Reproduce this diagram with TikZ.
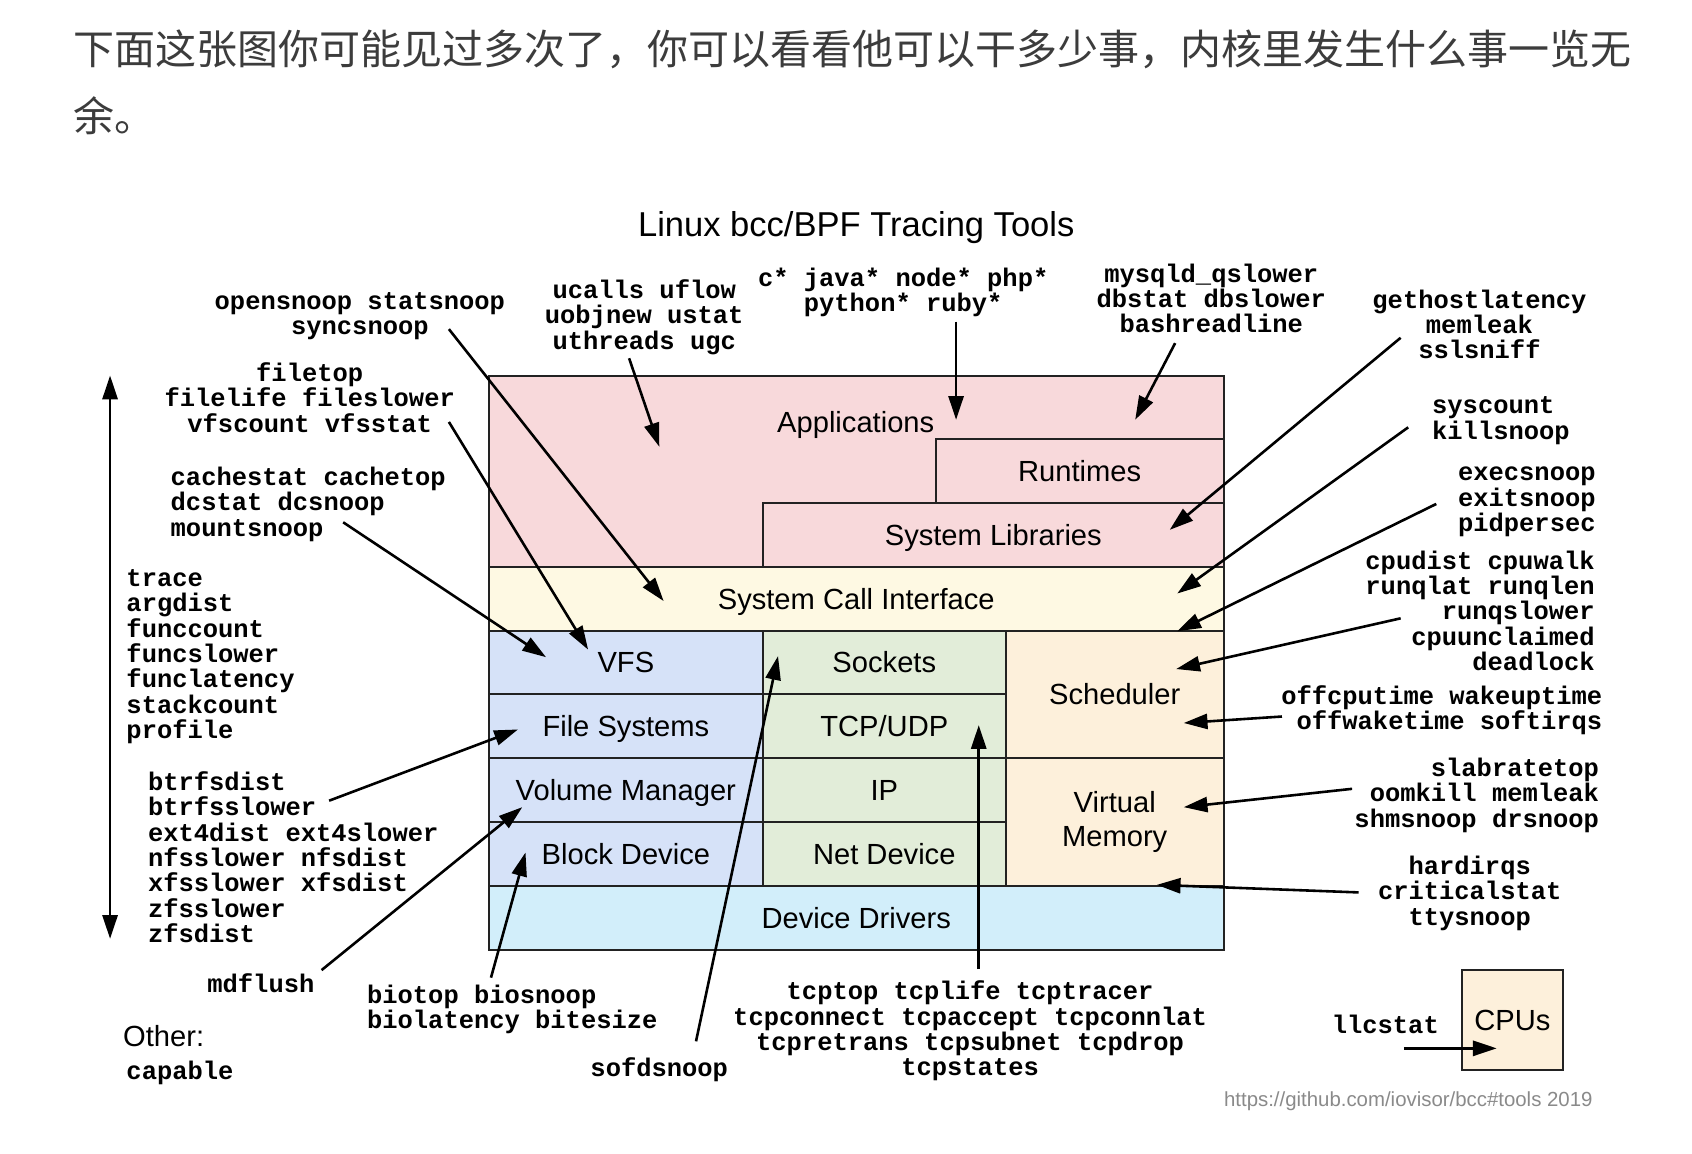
\documentclass[tikz,border=0pt]{standalone}
\usepackage{fontspec}
\setmainfont{Liberation Sans}
\newfontfamily\mono{Liberation Mono}
\newfontfamily\cjk{Noto Sans CJK SC}
\usetikzlibrary{arrows.meta}
\definecolor{appc}{HTML}{F8D9DB}
\definecolor{sysc}{HTML}{FEF9E3}
\definecolor{vfsc}{HTML}{D6E2F8}
\definecolor{netc}{HTML}{E2EDD9}
\definecolor{schc}{HTML}{FDF0DB}
\definecolor{drvc}{HTML}{D2EEFA}
\definecolor{edgec}{HTML}{222222}
\definecolor{cjkc}{HTML}{3C3C3C}
\definecolor{footc}{HTML}{8A8A8A}
\tikzset{
  layer/.style={draw=edgec, line width=1.8pt, rectangle, inner sep=0pt, outer sep=0pt,
    anchor=north west, font=\fontsize{27}{31}\selectfont, text height=19.4pt, text depth=0pt},
  lbl/.style={font=\fontsize{27}{31}\selectfont, inner sep=0pt, anchor=base},
  tool/.style={font=\mono\bfseries\fontsize{23.6}{23.5}\selectfont, inner sep=0pt},
  arr/.style={line width=2.4pt, -{Triangle[length=22pt,width=14pt]}},
  darr/.style={line width=2.4pt, {Triangle[length=22pt,width=14pt]}-{Triangle[length=22pt,width=14pt]}},
}
\begin{document}
\begin{tikzpicture}[x=1pt,y=-1pt]
\useasboundingbox[fill=white] (0,0) rectangle (1568,1069);

% intro text
\node[font=\cjk\fontsize{38}{62}\selectfont, text=cjkc, anchor=base west, inner sep=0pt] (intro1) at (68,60) {下面这张图你可能见过多次了，你可以看看他可以干多少事，内核里发生什么事一览无};
\node[font=\cjk\fontsize{38}{62}\selectfont, text=cjkc, anchor=base west, inner sep=0pt] (intro2) at (68,122) {余。};

% title
\node[font=\fontsize{32}{36}\selectfont, anchor=base, inner sep=0pt] (title) at (793.5,219) {Linux bcc/BPF Tracing Tools};

% layers
\node[layer, fill=appc, minimum width=681pt, minimum height=177.3pt] (apps) at (453,348) {};
\node[lbl] (appsl) at (793,401) {Applications};
\node[layer, fill=appc, minimum width=267pt, minimum height=59.1pt] (runt) at (867,407.1) {Runtimes};
\node[layer, fill=appc, minimum width=427pt, minimum height=59.1pt] (slib) at (707,466.2) {System Libraries};
\node[layer, fill=sysc, minimum width=681pt, minimum height=59.1pt] (sci) at (453,525.3) {System Call Interface};
\node[layer, fill=vfsc, minimum width=254pt, minimum height=59.1pt] (vfs) at (453,584.4) {VFS};
\node[layer, fill=vfsc, minimum width=254pt, minimum height=59.1pt] (fs) at (453,643.5) {File Systems};
\node[layer, fill=vfsc, minimum width=254pt, minimum height=59.1pt] (vm) at (453,702.6) {Volume Manager};
\node[layer, fill=vfsc, minimum width=254pt, minimum height=59.2pt] (bd) at (453,761.7) {Block Device};
\node[layer, fill=netc, minimum width=225pt, minimum height=59.1pt] (sock) at (707,584.4) {Sockets};
\node[layer, fill=netc, minimum width=225pt, minimum height=59.1pt] (tcp) at (707,643.5) {TCP/UDP};
\node[layer, fill=netc, minimum width=225pt, minimum height=59.1pt] (ip) at (707,702.6) {IP};
\node[layer, fill=netc, minimum width=225pt, minimum height=59.2pt] (netd) at (707,761.7) {Net Device};
\node[layer, fill=schc, minimum width=202pt, minimum height=118.2pt] (sched) at (932,584.4) {Scheduler};
\node[layer, fill=schc, minimum width=202pt, minimum height=118.2pt, text height=, text depth=, align=center] (virt) at (932,702.6) {Virtual\\Memory};
\node[layer, fill=drvc, minimum width=681pt, minimum height=59.2pt] (drv) at (453,820.8) {Device Drivers};
\node[layer, fill=schc, minimum width=93pt, minimum height=93pt] (cpus) at (1355,899) {CPUs};

% tool texts (anchor base = baseline of the last line)
\node[tool, anchor=base, align=center] (t-open) at (333.5,310) {opensnoop statsnoop\\syncsnoop};
\node[tool, anchor=base, align=center] (t-ucalls) at (597,323.5) {ucalls uflow\\uobjnew ustat\\uthreads ugc};
\node[tool, anchor=base, align=center] (t-lang) at (837,289) {c* java* node* php*\\python* ruby*};
\node[tool, anchor=base, align=center] (t-mysql) at (1122.5,308.5) {mysqld\_qslower\\dbstat dbslower\\bashreadline};
\node[tool, anchor=base, align=center] (t-gethost) at (1371,332.5) {gethostlatency\\memleak\\sslsniff};
\node[tool, anchor=base, align=center] (t-file) at (287,400.5) {filetop\\filelife fileslower\\vfscount vfsstat};
\node[tool, anchor=base west, align=left] (t-sysc) at (1327,407) {syscount\\killsnoop};
\node[tool, anchor=base west, align=left] (t-exec) at (1351,492.5) {execsnoop\\exitsnoop\\pidpersec};
\node[tool, anchor=base west, align=left] (t-cache) at (158,497) {cachestat cachetop\\dcstat dcsnoop\\mountsnoop};
\node[tool, anchor=base east, align=right] (t-cpu) at (1478,621.5) {cpudist cpuwalk\\runqlat runqlen\\runqslower\\cpuunclaimed\\deadlock};
\node[tool, anchor=base west, align=left] (t-trace) at (117,684.5) {trace\\argdist\\funccount\\funcslower\\funclatency\\stackcount\\profile};
\node[tool, anchor=base east, align=right] (t-offcpu) at (1485,676) {offcputime wakeuptime\\offwaketime softirqs};
\node[tool, anchor=base east, align=right] (t-slab) at (1482,766.5) {slabratetop\\oomkill memleak\\shmsnoop drsnoop};
\node[tool, anchor=base west, align=left] (t-btrfs) at (137,873.5) {btrfsdist\\btrfsslower\\ext4dist ext4slower\\nfsslower nfsdist\\xfsslower xfsdist\\zfsslower\\zfsdist};
\node[tool, anchor=base, align=center] (t-hard) at (1362,857.5) {hardirqs\\criticalstat\\ttysnoop};
\node[tool, anchor=base west] (t-md) at (192,919.5) {mdflush};
\node[tool, anchor=base west, align=left] (t-bio) at (340,953) {biotop biosnoop\\biolatency bitesize};
\node[tool, anchor=base, align=center] (t-tcp) at (899,997) {tcptop tcplife tcptracer\\tcpconnect tcpaccept tcpconnlat\\tcpretrans tcpsubnet tcpdrop\\tcpstates};
\node[tool, anchor=base west] (t-sofd) at (547,997.5) {sofdsnoop};
\node[lbl, anchor=base west] (other) at (114,969.5) {Other:};
\node[tool, anchor=base west] (t-cap) at (117,1000.5) {capable};
\node[tool, anchor=base west] (t-llc) at (1234,957.5) {llcstat};
\node[font=\fontsize{18.9}{22}\selectfont, text=footc, anchor=base east, inner sep=0pt] (foot) at (1476,1025) {https://github.com/iovisor/bcc\#tools 2019};

% arrow coordinates
\coordinate (a1) at (416,305);   \coordinate (a2) at (615,557);
\coordinate (b1) at (416,391);   \coordinate (b2) at (545,602);
\coordinate (c1) at (583,332);   \coordinate (c2) at (611,414);
\coordinate (d1) at (318,484);   \coordinate (d2) at (506,609);
\coordinate (e1) at (886,298);   \coordinate (e2) at (886,389);
\coordinate (f1) at (1089,318);  \coordinate (f2) at (1052,389);
\coordinate (g1) at (1298,313);  \coordinate (g2) at (1084,491);
\coordinate (h1) at (1305,396);  \coordinate (h2) at (1091,550);
\coordinate (i1) at (1331,467);  \coordinate (i2) at (1091,585);
\coordinate (j1) at (1298,573);  \coordinate (j2) at (1090,620);
\coordinate (k1) at (1188,664);  \coordinate (k2) at (1097,670);
\coordinate (l1) at (1253,731);  \coordinate (l2) at (1097,748);
\coordinate (m1) at (1259,827);  \coordinate (m2) at (1072,820);
\coordinate (n1) at (305,742);   \coordinate (n2) at (480,676);
\coordinate (o1) at (298,899);   \coordinate (o2) at (484,748);
\coordinate (p1) at (455,906);   \coordinate (p2) at (487,790);
\coordinate (q1) at (645,965);   \coordinate (q2) at (721,608);
\coordinate (r1) at (907,898);   \coordinate (r2) at (907,672);
\coordinate (s1) at (1301,971.5);\coordinate (s2) at (1387,971.5);
\coordinate (v1) at (102,348);   \coordinate (v2) at (102,870);

\foreach \p in {a,b,c,d,e,f,g,h,i,j,k,l,m,n,o,p,q,r,s}
  \draw[arr] (\p1) -- (\p2);
\draw[darr] (v1) -- (v2);
\end{tikzpicture}
\end{document}
